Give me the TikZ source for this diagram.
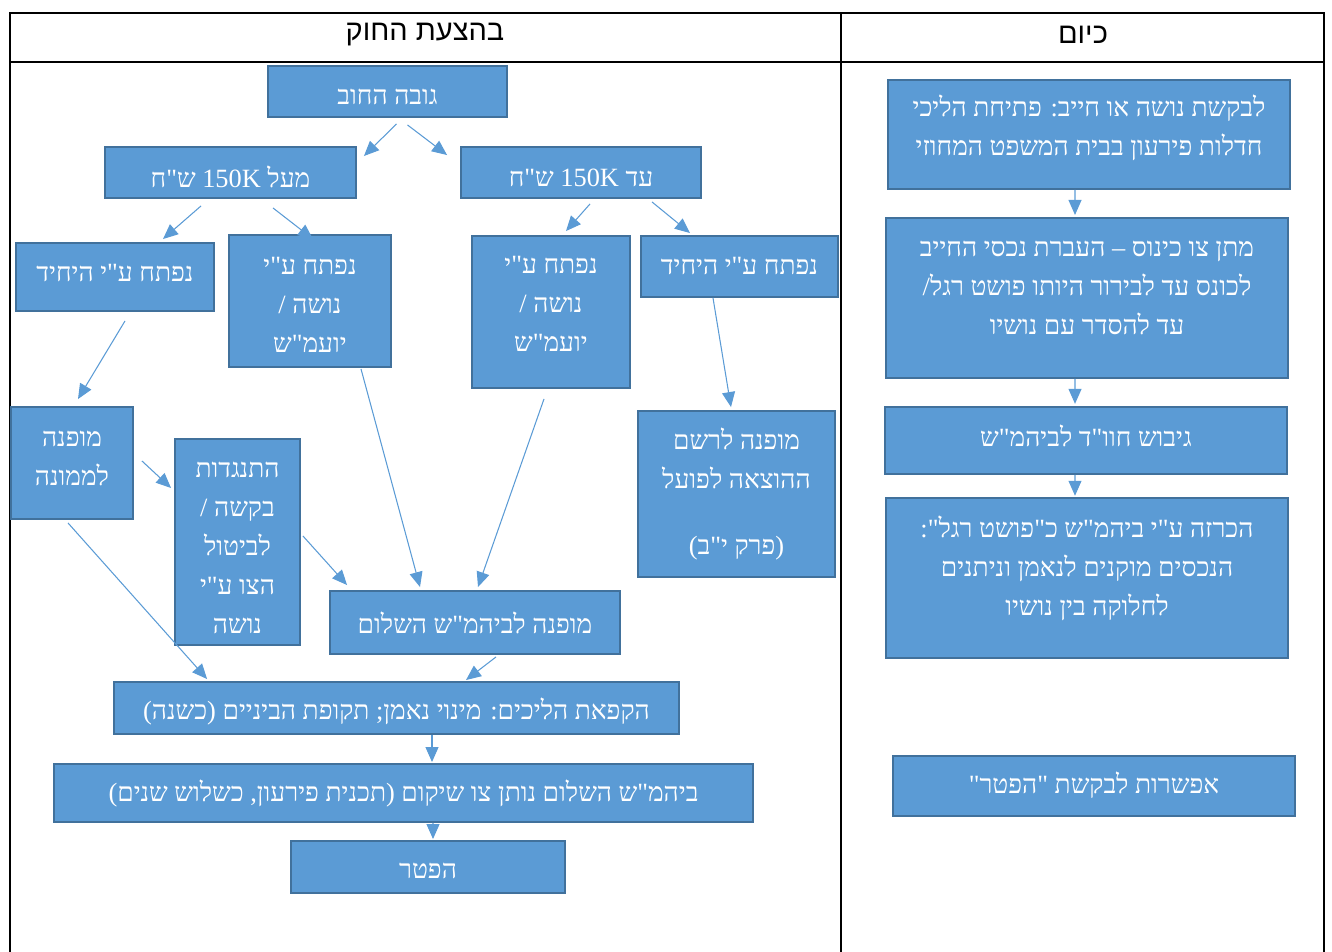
\documentclass[tikz,border=0pt]{standalone}
\usepackage{fontspec}
\usetikzlibrary{positioning,arrows.meta}
\newfontfamily\hebfont[Script=Hebrew]{Liberation Serif}
\newfontfamily\hebsans[Script=Hebrew]{Liberation Sans}
\TeXXeTstate=1
\newcommand{\rlshift}{0pt}
\newcommand{\rl}[1]{\raisebox{\rlshift}[\height][\depth]{\beginR #1\endR}}
\definecolor{boxblue}{HTML}{5B9BD5}
\definecolor{boxedge}{HTML}{41719C}

\begin{document}
\begin{tikzpicture}[x=0.02cm,y=-0.02cm,
		bluebox/.style={draw=boxedge,line width=1.1pt,fill=boxblue,text=white,inner sep=0pt,
			font=\hebfont\fontsize{15}{22.2}\selectfont,align=center},
		boxtext/.style={text=white,inner sep=0pt,font=\hebfont\fontsize{15}{22.2}\selectfont,align=center},
		headtext/.style={inner sep=0pt,font=\hebsans\fontsize{16.5}{18}\selectfont},
		txtlift/.code={\def\rlshift{#1}},
		conn/.style={draw=boxblue,line width=0.6pt,-{Triangle[length=0.3cm,width=0.26cm]}},
		grid/.style={line width=1.1pt}]
	\useasboundingbox (0,0) rectangle (1332,952);

	% table
	\draw[grid] (10,952) -- (10,13) -- (1324,13) -- (1324,952);
	\draw[grid] (10,62) -- (1324,62);
	\draw[grid] (841,13) -- (841,952);
	\node[headtext] (headnew) at (425,35) {\rl{בהצעת החוק}};
	\node[headtext] (headnow) at (1083,35) {\rl{כיום}};

	% today
	\node[bluebox,minimum width=8.04cm,minimum height=2.18cm] (R1) at (1089,134.5) {};
	\node[bluebox,minimum width=8.04cm,minimum height=3.2cm,below=0.54cm of R1,xshift=-0.04cm] (R2) {};
	\node[bluebox,minimum width=8.04cm,minimum height=1.34cm,below=0.54cm of R2,xshift=-0.02cm,txtlift=0.08cm] (R3) {\rl{גיבוש חוו"ד לביהמ"ש}};
	\node[bluebox,minimum width=8.04cm,minimum height=3.2cm,below=0.44cm of R3,xshift=0.02cm] (R4) {};
	\node[bluebox,minimum width=8.04cm,minimum height=1.2cm,below=1.92cm of R4,xshift=0.14cm] (R5) {\rl{אפשרות לבקשת "הפטר"}};
	\node[boxtext] (R1txt) at ([yshift=0.14cm]R1.center) {\rl{לבקשת נושה או חייב: פתיחת הליכי}\\\rl{חדלות פירעון בבית המשפט המחוזי}};
	\node[boxtext] (R2txt) at ([yshift=0.2cm]R2.center) {\rl{מתן צו כינוס – העברת נכסי החייב}\\\rl{לכונס עד לבירור היותו פושט רגל/}\\\rl{עד להסדר עם נושיו}};
	\node[boxtext] (R4txt) at ([yshift=0.18cm]R4.center) {\rl{הכרזה ע"י ביהמ"ש כ"פושט רגל":}\\\rl{הנכסים מוקנים לנאמן וניתנים}\\\rl{לחלוקה בין נושיו}};

	\draw[conn] ([xshift=-0.28cm]R1.south) -- ([xshift=-0.24cm,yshift=0.04cm]R2.north);
	\draw[conn] ([xshift=-0.24cm]R2.south) -- ([xshift=-0.22cm,yshift=0.04cm]R3.north);
	\draw[conn] ([xshift=-0.22cm]R3.south) -- ([xshift=-0.24cm,yshift=0.02cm]R4.north);

	% proposal
	\node[bluebox,minimum width=4.78cm,minimum height=1.02cm,txtlift=-0.1cm] (gobah) at (387.5,91.5) {\rl{גובה החוב}};
	\node[bluebox,minimum width=5.02cm,minimum height=1.02cm,txtlift=-0.08cm] (over) at (230.5,172.5) {\rl{מעל 150K ש"ח}};
	\node[bluebox,minimum width=4.8cm,minimum height=1.02cm,txtlift=-0.1cm] (upto) at (581,172.5) {\rl{עד 150K ש"ח}};
	\node[bluebox,minimum width=3.96cm,minimum height=1.36cm,txtlift=0.08cm] (yahidL) at (115,277) {\rl{נפתח ע"י היחיד}};
	\node[bluebox,minimum width=3.24cm,minimum height=2.64cm,txtlift=-0.08cm] (nosheL) at (310,301) {\rl{נפתח ע"י}\\\rl{נושה /}\\\rl{יועמ"ש}};
	\node[bluebox,minimum width=3.16cm,minimum height=3.04cm,text depth=0.32cm] (nosheR) at (551,312) {\rl{נפתח ע"י}\\\rl{נושה /}\\\rl{יועמ"ש}};
	\node[bluebox,minimum width=3.94cm,minimum height=1.22cm] (yahidR) at (739.5,266.5) {\rl{נפתח ע"י היחיד}};
	\node[bluebox,minimum width=2.44cm,minimum height=2.24cm,txtlift=0.1cm] (memuneh) at (72,463) {\rl{מופנה}\\\rl{לממונה}};
	\node[bluebox,minimum width=2.5cm,minimum height=4.12cm,txtlift=-0.12cm] (hitnagdut) at (237.5,542) {\rl{התנגדות}\\\rl{בקשה /}\\\rl{לביטול}\\\rl{הצו ע"י}\\\rl{נושה}};
	\node[bluebox,minimum width=3.94cm,minimum height=3.32cm] (rasham) at (736.5,494) {\rl{מופנה לרשם}\\\rl{ההוצאה לפועל}\\[0.54cm]\rl{(פרק י"ב)}};
	\node[bluebox,minimum width=5.8cm,minimum height=1.26cm] (shalom) at (475,622.5) {\rl{מופנה לביהמ"ש השלום}};
	\node[bluebox,minimum width=11.3cm,minimum height=1.04cm,txtlift=-0.06cm] (hakpaat) at (396.5,708) {\rl{הקפאת הליכים: מינוי נאמן; תקופת הביניים (כשנה)}};
	\node[bluebox,minimum width=13.98cm,minimum height=1.16cm] (shikum) at (403.5,793) {\rl{ביהמ"ש השלום נותן צו שיקום (תכנית פירעון, כשלוש שנים)}};
	\node[bluebox,minimum width=5.48cm,minimum height=1.04cm,txtlift=-0.08cm] (hefter) at (428,867) {\rl{הפטר}};

	\draw[conn] ([shift={(9,6)}]gobah.south) -- ([shift={(7,10)}]over.north east);
	\draw[conn] ([shift={(20,7)}]gobah.south) -- ([shift={(-13,9)}]upto.north west);
	\draw[conn] ([shift={(-29.5,7)}]over.south) -- ([shift={(48,-3)}]yahidL.north);
	\draw[conn] ([shift={(42.5,9)}]over.south) -- ([shift={(3,5)}]nosheL.north);
	\draw[conn] ([shift={(9,5)}]upto.south) -- ([shift={(15,-4)}]nosheR.north);
	\draw[conn] ([shift={(71,3)}]upto.south) -- ([shift={(-49.5,-2)}]yahidR.north);
	\draw[conn] ([shift={(10,9)}]yahidL.south) -- ([shift={(6,-7)}]memuneh.north);
	\draw[conn] ([shift={(51,1)}]nosheL.south) -- ([shift={(-55,-3)}]shalom.north);
	\draw[conn] ([shift={(-7,10)}]nosheR.south) -- ([shift={(3,-3)}]shalom.north);
	\draw[conn] ([shift={(-26.5,0)}]yahidR.south) -- ([shift={(-5.5,-3)}]rasham.north);
	\draw[conn] ([shift={(8,-2)}]memuneh.east) -- ([shift={(-3,-54)}]hitnagdut.west);
	\draw[conn] ([shift={(-4,3)}]memuneh.south) -- ([shift={(94,-2)}]hakpaat.north west);
	\draw[conn] ([shift={(2,-6)}]hitnagdut.east) -- ([shift={(18,-5)}]shalom.north west);
	\draw[conn] ([shift={(21,2)}]shalom.south) -- ([shift={(69.5,-1)}]hakpaat.north);
	\draw[conn] ([shift={(35.5,0)}]hakpaat.south) -- ([shift={(28.5,-1)}]shikum.north);
	\draw[conn] ([shift={(29.5,0)}]shikum.south) -- ([shift={(5,-1)}]hefter.north);
\end{tikzpicture}
\end{document}
